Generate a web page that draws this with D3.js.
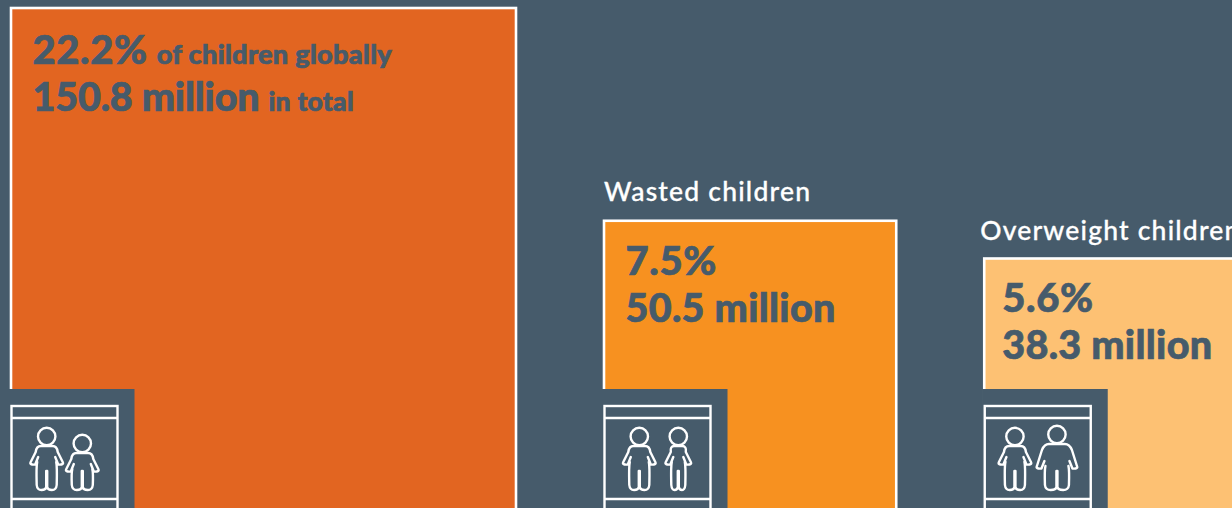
<!DOCTYPE html>
<html>
<head>
<meta charset="utf-8">
<script src="https://cdn.jsdelivr.net/npm/d3@7"></script>
<style>
  html, body { margin: 0; padding: 0; background: #465b6b; overflow: hidden; }
  svg { display: block; }
  text { font-family: Lato, sans-serif; }
</style>
</head>
<body>
<div id="chart"></div>
<script>
var categories = ['Stunted children', 'Wasted children', 'Overweight children'];
var titles = ['', 'Wasted children', 'Overweight children'];
var percents = ['22.2%', '7.5%', '5.6%'];
var millions = [150.8, 50.5, 38.3];
var percentNotes = ['of children globally', '', ''];
var totalNotes = ['in total', '', ''];
var colors = ['#e26521', '#f79120', '#fdc173'];

var width = 1232, height = 508;
var background = '#465b6b';
var baseline = 513;   // squares all sit on this line, below the crop
var gap = 88;

var svg = d3.select('#chart').append('svg')
  .attr('width', width)
  .attr('height', height);

// area of the square is the number of children
var side = d3.scaleSqrt().domain([0, 150.8]).range([0, 505]);

var lefts = [];
millions.forEach(function(d, i) {
  lefts.push(i == 0 ? 11 : lefts[i - 1] + side(millions[i - 1]) + gap);
});

// text offsets from the top left of each square
var textDx = [21.5, 21.5, 18];
var textDy = [56, 54, 53.5];
var titleDx = [1, 0, -4];
var titleDy = [-19.5, -19.5, -18.5];
var millionSpacing = [-0.2, 0.3, 0.3];   // the 1 in 150.8 is narrow in the original face

// one child: cx from the frame left, a = arm reach, l = leg width, top = shoulder y, hand = hand y
var figures = [
  [{cx: 35.7, a: 16, l: 10.5, top: 446, hand: 463}, {cx: 71.3, a: 16, l: 11, top: 453, hand: 470}],
  [{cx: 35.3, a: 16, l: 10.5, top: 446, hand: 463}, {cx: 74.3, a: 12.5, l: 7.5, top: 446, hand: 463}],
  [{cx: 30.7, a: 16, l: 10.5, top: 446, hand: 463}, {cx: 72.7, a: 20, l: 12.5, top: 444, hand: 467}]
];

function bodyPath(f) {
  var a = f.a, l = f.l, t = f.top, h = f.hand, foot = 490;
  var s = a * 0.55;   // where the shoulder curve meets the top
  var p = d3.path();
  p.moveTo(-a + 7.5, h - 6);
  p.lineTo(-a + 4.5, h + 1.5);
  p.quadraticCurveTo(-a - 1.5, h + 2, -a, h - 1);
  p.lineTo(-a + 5, t + 6);
  p.quadraticCurveTo(-s - 1.5, t, -s + 3, t);
  p.lineTo(s - 3, t);
  p.quadraticCurveTo(s + 1.5, t, a - 5, t + 6);
  p.lineTo(a, h - 1);
  p.quadraticCurveTo(a + 1.5, h + 2, a - 4.5, h + 1.5);
  p.lineTo(a - 7.5, h - 6);
  p.moveTo(l - 1, h - 1);
  p.quadraticCurveTo(l, h + 3, l - 0.5, foot - 5);
  p.quadraticCurveTo(l - 1, foot, l / 2, foot);
  p.quadraticCurveTo(1, foot, 0.5, foot - 3);
  p.lineTo(0.5, 471);
  p.moveTo(-0.5, 471);
  p.lineTo(-0.5, foot - 3);
  p.quadraticCurveTo(-1, foot, -l / 2, foot);
  p.quadraticCurveTo(-l + 1, foot, -l + 0.5, foot - 5);
  p.quadraticCurveTo(-l, h + 3, -l + 1, h - 1);
  return p.toString();
}

var panels = svg.selectAll('.panel')
  .data(categories)
  .enter().append('g')
  .attr('class', 'panel');

panels.append('rect')
  .attr('x', function(d, i) { return lefts[i]; })
  .attr('y', function(d, i) { return baseline - side(millions[i]); })
  .attr('width', function(d, i) { return side(millions[i]); })
  .attr('height', function(d, i) { return side(millions[i]); })
  .attr('fill', function(d, i) { return colors[i]; })
  .attr('stroke', 'white')
  .attr('stroke-width', 2.6);

panels.append('text')
  .attr('x', function(d, i) { return lefts[i] + titleDx[i]; })
  .attr('y', function(d, i) { return baseline - side(millions[i]) + titleDy[i]; })
  .attr('fill', 'white')
  .attr('font-size', 26.5)
  .attr('font-weight', 500)
  .attr('stroke', 'white')
  .attr('stroke-width', 0.3)
  .attr('letter-spacing', 1.2)
  .text(function(d, i) { return titles[i]; });

var first = panels.append('text')
  .attr('x', function(d, i) { return lefts[i] + textDx[i]; })
  .attr('y', function(d, i) { return baseline - side(millions[i]) + textDy[i]; })
  .attr('fill', background)
  .attr('stroke', background)
  .attr('stroke-width', 0.7)
  .attr('font-weight', 900);
first.append('tspan').attr('font-size', 40).attr('letter-spacing', 0.6).text(function(d, i) { return percents[i]; });
first.append('tspan').attr('font-size', 27.2).attr('letter-spacing', 0.25).attr('dx', 9).text(function(d, i) { return percentNotes[i]; });

var second = panels.append('text')
  .attr('x', function(d, i) { return lefts[i] + textDx[i]; })
  .attr('y', function(d, i) { return baseline - side(millions[i]) + textDy[i] + 47; })
  .attr('fill', background)
  .attr('stroke', background)
  .attr('stroke-width', 0.7)
  .attr('font-weight', 900);
second.append('tspan').attr('font-size', 39.5)
  .attr('letter-spacing', function(d, i) { return millionSpacing[i]; })
  .text(function(d, i) { return d3.format('.1f')(millions[i]) + ' million'; });
second.append('tspan').attr('font-size', 26.5).attr('letter-spacing', 0.25).attr('dx', 9).text(function(d, i) { return totalNotes[i]; });

// icon block covers the bottom left corner of each square
panels.append('rect')
  .attr('x', function(d, i) { return lefts[i] - 2; })
  .attr('y', 389)
  .attr('width', 125.5)
  .attr('height', height - 389)
  .attr('fill', background);

var icons = panels.append('g')
  .attr('transform', function(d, i) { return 'translate(' + lefts[i] + ',0)'; })
  .attr('fill', 'none')
  .attr('stroke', 'white')
  .attr('stroke-width', 2.4);

icons.append('rect').attr('x', 0.5).attr('y', 406).attr('width', 106).attr('height', 120);
icons.append('line').attr('x1', 0.5).attr('x2', 106.5).attr('y1', 418).attr('y2', 418);
icons.append('line').attr('x1', 0.5).attr('x2', 106.5).attr('y1', 499).attr('y2', 499);

var kids = icons.selectAll('.kid')
  .data(function(d, i) { return figures[i]; })
  .enter().append('g')
  .attr('class', 'kid')
  .attr('transform', function(f) { return 'translate(' + f.cx + ',0)'; })
  .attr('stroke-linecap', 'round')
  .attr('stroke-linejoin', 'round');

kids.append('circle')
  .attr('cy', function(f) { return f.top - 9.5; })
  .attr('r', 8.7);

kids.append('path').attr('d', bodyPath);
</script>
</body>
</html>
